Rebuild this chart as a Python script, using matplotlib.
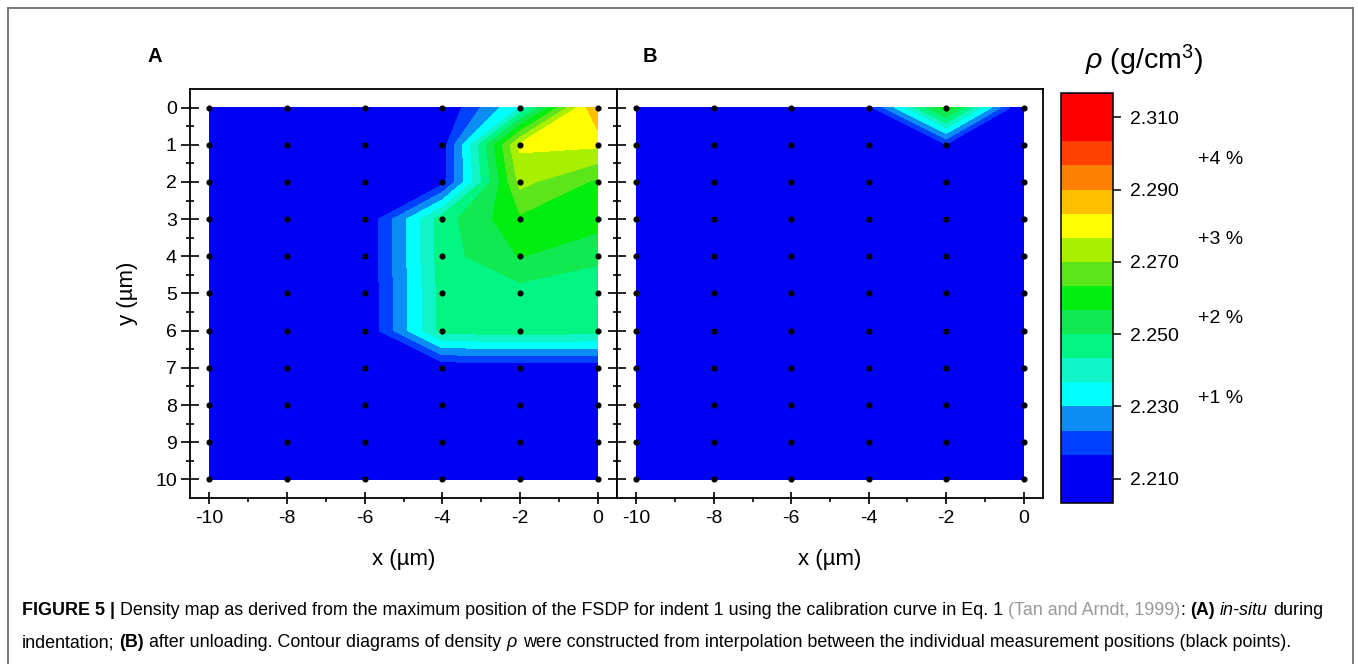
import numpy as np
import matplotlib
matplotlib.use("Agg")
import matplotlib.pyplot as plt
from matplotlib.colors import ListedColormap, BoundaryNorm
from matplotlib.lines import Line2D
from matplotlib.transforms import blended_transform_factory

plt.rcParams['font.family'] = ['Liberation Sans', 'DejaVu Sans']
plt.rcParams['axes.unicode_minus'] = False
plt.rcParams['mathtext.fontset'] = 'custom'
plt.rcParams['mathtext.rm'] = 'Liberation Sans'
plt.rcParams['mathtext.it'] = 'Liberation Sans:italic'

# measurement grid (um)
x_pos = [-10, -8, -6, -4, -2, 0]
y_pos = [0, 1, 2, 3, 4, 5, 6, 7, 8, 9, 10]

# density (g/cm3), one row per y, columns follow x_pos
rho_a = [
    [2.210, 2.210, 2.210, 2.210, 2.237, 2.291],
    [2.210, 2.210, 2.210, 2.213, 2.278, 2.278],
    [2.210, 2.210, 2.210, 2.214, 2.272, 2.262],
    [2.210, 2.210, 2.210, 2.247, 2.262, 2.260],
    [2.210, 2.210, 2.210, 2.247, 2.257, 2.251],
    [2.210, 2.210, 2.210, 2.246, 2.247, 2.247],
    [2.210, 2.210, 2.210, 2.246, 2.247, 2.246],
    [2.210, 2.210, 2.210, 2.211, 2.212, 2.212],
    [2.210, 2.210, 2.210, 2.210, 2.210, 2.210],
    [2.210, 2.210, 2.210, 2.210, 2.210, 2.210],
    [2.210, 2.210, 2.210, 2.210, 2.210, 2.210],
]
rho_b = [
    [2.210, 2.210, 2.210, 2.214, 2.262, 2.207],
    [2.210, 2.210, 2.210, 2.210, 2.216, 2.210],
    [2.210, 2.210, 2.210, 2.210, 2.210, 2.210],
    [2.210, 2.210, 2.210, 2.210, 2.210, 2.210],
    [2.210, 2.210, 2.210, 2.210, 2.210, 2.210],
    [2.210, 2.210, 2.210, 2.210, 2.210, 2.210],
    [2.210, 2.210, 2.210, 2.210, 2.210, 2.210],
    [2.210, 2.210, 2.210, 2.210, 2.210, 2.210],
    [2.210, 2.210, 2.210, 2.210, 2.210, 2.210],
    [2.210, 2.210, 2.210, 2.210, 2.210, 2.210],
    [2.210, 2.210, 2.210, 2.210, 2.210, 2.210],
]

rho_ref = 2.21
pct_steps = [1, 2, 3, 4]
cbar_ticks = [2.21, 2.23, 2.25, 2.27, 2.29, 2.31]
cbar_ticklabels = ['2.210', '2.230', '2.250', '2.270', '2.290', '2.310']

levels = [2.2033, 2.2167, 2.2233, 2.2300, 2.2367, 2.2433, 2.2500, 2.2567,
          2.2633, 2.2700, 2.2767, 2.2833, 2.2900, 2.2967, 2.3033, 2.3167]
band_colors = ['#0000f5', '#0040ff', '#0c8cf5', '#00ffff', '#10f5c8',
               '#00f582', '#10ea50', '#00ee10', '#5ae61a', '#a8f000',
               '#ffff00', '#ffc000', '#ff8000', '#ff4000', '#ff0000']
cmap = ListedColormap(band_colors)
norm = BoundaryNorm(levels, cmap.N)

W, H = 1358, 664
fig = plt.figure(figsize=(W / 100, H / 100), dpi=100)

def box(l, t, r, b):
    return [l / W, 1 - b / H, (r - l) / W, (b - t) / H]

ax_a = fig.add_axes(box(190, 89, 617, 498))
ax_b = fig.add_axes(box(617, 89, 1043, 498))
cax = fig.add_axes(box(1061, 93, 1113, 503))

X, Y = np.meshgrid(x_pos, y_pos)
for ax, rho in [(ax_a, rho_a), (ax_b, rho_b)]:
    cs = ax.contourf(X, Y, np.array(rho), levels=levels, cmap=cmap, norm=norm)
    ax.plot(X.ravel(), Y.ravel(), 'o', color='black', ms=3.4, ls='none')
    ax.set_xlim(-10.5, 0.5)
    ax.set_ylim(10.5, -0.5)
    ax.set_xticks([-10, -8, -6, -4, -2, 0])
    ax.set_xticks([-9, -7, -5, -3, -1], minor=True)
    ax.set_yticks(y_pos)
    ax.set_yticks(np.arange(0.5, 10.5, 1.0), minor=True)
    ax.tick_params(axis='x', which='major', direction='inout', length=9,
                   width=1.2, labelsize=14, pad=4)
    ax.tick_params(axis='x', which='minor', direction='out', length=3, width=1.2)
    ax.tick_params(axis='y', which='major', direction='inout', length=13,
                   width=1.2, labelsize=14, pad=3)
    ax.tick_params(axis='y', which='minor', direction='inout', length=6, width=1.2)
    for sp in ax.spines.values():
        sp.set_linewidth(1.3)

ax_b.tick_params(axis='y', which='both', labelleft=False)
ax_a.set_xlabel('x (µm)', fontsize=16, labelpad=16)
ax_b.set_xlabel('x (µm)', fontsize=16, labelpad=16)
ax_a.set_ylabel('y (µm)', fontsize=16, labelpad=12)

fig.text(147 / W, 1 - 57 / H, 'A', fontsize=14.5, fontweight='bold', ha='left', va='center')
fig.text(643 / W, 1 - 57 / H, 'B', fontsize=14.5, fontweight='bold', ha='left', va='center')

cb = fig.colorbar(cs, cax=cax, ticks=cbar_ticks, spacing='proportional')
cb.ax.set_yticklabels(cbar_ticklabels)
cb.ax.minorticks_off()
cb.ax.tick_params(direction='out', length=6, width=1.1, labelsize=14, pad=6)
cb.outline.set_linewidth(1.1)
fig.text(1144 / W, 1 - 60 / H, r'$\rho$ (g/cm$^3$)', fontsize=20.5,
         ha='center', va='center')

trans = blended_transform_factory(cax.transAxes, cax.transData)
for p in pct_steps:
    cax.text(2.63, rho_ref * (1 + p / 100), f'+{p} %', transform=trans,
             fontsize=14, ha='left', va='center')

# figure frame
frame = dict(color='#707070', lw=1.3, transform=fig.transFigure)
fig.add_artist(Line2D([8 / W, 8 / W], [0, 1 - 8 / H], **frame))
fig.add_artist(Line2D([8 / W, 1353 / W], [1 - 8 / H, 1 - 8 / H], **frame))
fig.add_artist(Line2D([1353 / W, 1353 / W], [0, 1 - 8 / H], **frame))

# caption, built from styled runs
cap_size = 12.85
line1 = [('FIGURE 5 |', dict(fontweight='bold'), True),
         ('Density map as derived from the maximum position of the FSDP for indent 1 '
          'using the calibration curve in Eq. 1', {}, True),
         ('(Tan and Arndt, 1999)', dict(color='#9a9a9a'), False),
         (':', {}, True),
         ('(A)', dict(fontweight='bold'), True),
         ('in-situ', dict(style='italic'), True),
         ('during', {}, False)]
line2 = [('indentation;', {}, True),
         ('(B)', dict(fontweight='bold'), True),
         ('after unloading. Contour diagrams of density', {}, True),
         (r'$\rho$', {}, True),
         ('were constructed from interpolation between the individual '
          'measurement positions (black points).', {}, False)]

fig.canvas.draw()
renderer = fig.canvas.get_renderer()
probe = fig.text(0, 0, 'a a', fontsize=cap_size)
w1 = probe.get_window_extent(renderer).width
probe.set_text('aa')
space_w = w1 - probe.get_window_extent(renderer).width
probe.remove()

def put_line(runs, x0, y_top):
    x = x0
    for s, kw, gap in runs:
        t = fig.text(x / W, 1 - y_top / H, s, fontsize=cap_size, va='baseline',
                     ha='left', **kw)
        x += t.get_window_extent(renderer).width
        if gap:
            x += space_w

put_line(line1, 22, 615)
put_line(line2, 22, 647)

fig.savefig('out.png', dpi=100)
